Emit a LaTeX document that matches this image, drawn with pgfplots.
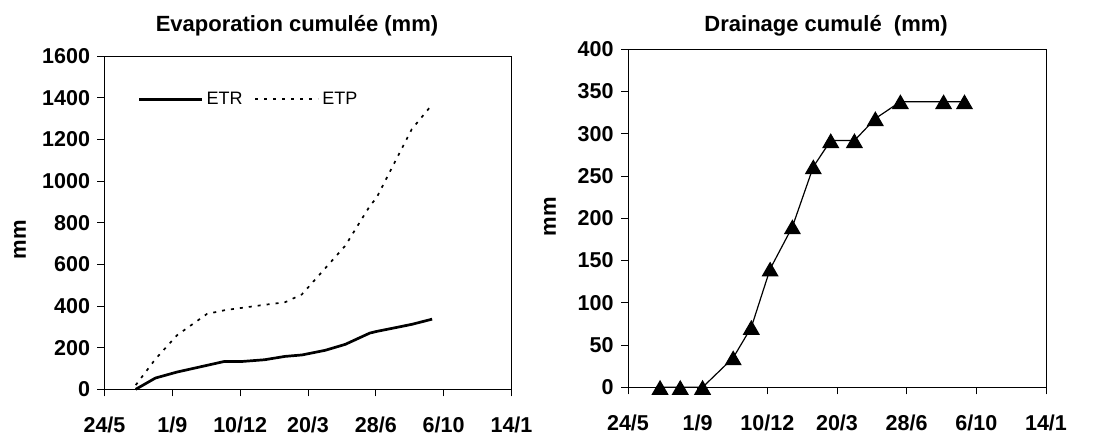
\documentclass[border=0pt]{standalone}
\usepackage{fontspec}
\setmainfont{Liberation Sans}
\usepackage{pgfplots}
\pgfplotsset{compat=1.18}

\pgfplotstableread{
day etr etp
46 0 20
75 54 145
107 83 260
151 115 362
177 134 380
204 134 392
236 142 406
266 158 418
291 165 456
325 187 580
355 216 690
391 270 880
401 278 920
453 312 1250
483 337 1368
}\evap

\pgfplotstableread{
day drain
46 0
75 0
107 0
151 35
177 71
204 140
236 190
266 261
291 292
325 292
355 318
391 338
453 338
483 338
}\drain

\pgfplotsset{
  common/.style={
    scale only axis,
    axis line style={black, line width=0.9bp},
    tick style={black, line width=0.9bp},
    tick align=outside,
    major tick length=7bp,
    xtick pos=bottom, ytick pos=left,
    xmin=0, xmax=600,
    xtick={0,100,...,600},
    xticklabels={24/5,1/9,10/12,20/3,28/6,6/10,14/1},
    /pgf/number format/assume math mode=true,
    /pgf/number format/1000 sep={},
    ticklabel style={font=\fontsize{21.5bp}{24bp}\selectfont\bfseries},
    xticklabel style={yshift=-17bp},
    yticklabel style={xshift=-4bp},
    clip=false,
  }
}

\begin{document}
\begin{tikzpicture}
\useasboundingbox (0,0) rectangle (1093bp,437bp);

\begin{axis}[common,
  at={(104.5bp,47.7bp)}, anchor=south west,
  width=407bp, height=333bp,
  ymin=0, ymax=1600, ytick={0,200,...,1600},
  title={Evaporation cumulée (mm)},
  every axis title/.style={at={(axis description cs:0.473,1)}, anchor=base, yshift=24.6bp, font=\fontsize{22bp}{26bp}\selectfont\bfseries},
  ylabel={mm},
  every axis y label/.style={at={(axis description cs:0,0.45)}, xshift=-84.5bp, rotate=90, anchor=center, font=\fontsize{22bp}{26bp}\selectfont\bfseries},
  legend columns=2,
  legend style={at={(axis description cs:0.0816,0.871)}, anchor=west, draw=none, fill=none, inner sep=0pt,
    font=\fontsize{18bp}{21bp}\selectfont, nodes={inner xsep=3bp},
    /tikz/every even column/.append style={column sep=9bp}},
  legend image code/.code={\draw[#1] (0bp,0bp) -- (63bp,0bp);},
]
\addplot[black, line width=2.7bp] table[x=day, y=etr] {\evap};
\addplot[black, line width=1.7bp, dash pattern=on 3bp off 6bp] table[x=day, y=etp] {\evap};
\legend{ETR, ETP}
\end{axis}

\begin{axis}[common,
  at={(628bp,49.7bp)}, anchor=south west,
  width=418bp, height=338bp,
  ymin=0, ymax=400, ytick={0,50,...,400},
  title={Drainage cumulé\ \ (mm)},
  every axis title/.style={at={(axis description cs:0.474,1)}, anchor=base, yshift=17.3bp, font=\fontsize{22bp}{26bp}\selectfont\bfseries},
  ylabel={mm},
  every axis y label/.style={at={(axis description cs:0,0.504)}, xshift=-78bp, rotate=90, anchor=center, font=\fontsize{22bp}{26bp}\selectfont\bfseries},
]
\addplot[black, line width=1.2bp, mark=triangle*, mark size=8.7bp, mark options={solid, fill=black, yshift=-2.5bp}] table[x=day, y=drain] {\drain};
\end{axis}
\end{tikzpicture}
\end{document}
